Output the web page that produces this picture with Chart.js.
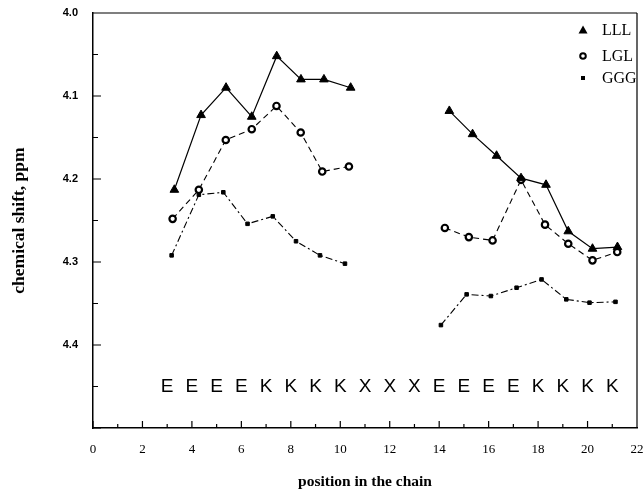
<!DOCTYPE html>
<html>
<head>
<meta charset="utf-8">
<script src="https://cdn.jsdelivr.net/npm/chart.js@4"></script>
<style>
    html, body { margin: 0; padding: 0; background: #fff; }
    #wrap { width: 644px; height: 495px; }
</style>
</head>
<body>
<div id="wrap"><canvas id="chart" width="644" height="495"></canvas></div>
<script>
// chain positions and shifts (null = gap in the chain)
const lllX = [3.29, 4.37, 5.38, 6.42, 7.43, 8.41, 9.34, 10.42, 12, 14.41, 15.35, 16.32, 17.31, 18.32, 19.22, 20.2, 21.21];
const lllY = [4.213, 4.123, 4.090, 4.125, 4.052, 4.080, 4.080, 4.090, null, 4.118, 4.146, 4.172, 4.199, 4.207, 4.263, 4.284, 4.282];

const lglX = [3.22, 4.28, 5.37, 6.42, 7.42, 8.40, 9.27, 10.35, 12, 14.23, 15.2, 16.16, 17.31, 18.28, 19.22, 20.2, 21.2];
const lglY = [4.248, 4.213, 4.153, 4.140, 4.112, 4.144, 4.191, 4.185, null, 4.259, 4.270, 4.274, 4.201, 4.255, 4.278, 4.298, 4.288];

const gggX = [3.18, 4.28, 5.27, 6.25, 7.27, 8.21, 9.18, 10.19, 12, 14.07, 15.11, 16.09, 17.13, 18.14, 19.14, 20.08, 21.13];
const gggY = [4.292, 4.219, 4.216, 4.254, 4.245, 4.275, 4.292, 4.302, null, 4.376, 4.339, 4.341, 4.331, 4.321, 4.345, 4.349, 4.348];

const residues = ['E', 'E', 'E', 'E', 'K', 'K', 'K', 'K', 'X', 'X', 'X', 'E', 'E', 'E', 'E', 'K', 'K', 'K', 'K'];
const residuePos = [3, 4, 5, 6, 7, 8, 9, 10, 11, 12, 13, 14, 15, 16, 17, 18, 19, 20, 21];
const residueLevel = 4.45;

const seriesNames = ['LLL', 'LGL', 'GGG'];

function pts(xs, ys) {
    return xs.map((x, i) => ({ x: x, y: ys[i] }));
}

// inward ticks, top/right frame, residue letters and the legend
const extras = {
    id: 'extras',
    afterDraw(chart) {
        const ctx = chart.ctx;
        const xs = chart.scales.x, ys = chart.scales.y;
        const a = chart.chartArea;
        ctx.save();
        ctx.strokeStyle = '#000';
        ctx.lineWidth = 1.2;
        ctx.beginPath();
        ctx.moveTo(a.left, a.top); ctx.lineTo(a.right, a.top);
        ctx.moveTo(a.right, a.top); ctx.lineTo(a.right, a.bottom);
        for (let v = 0; v <= 22; v++) {
            const px = xs.getPixelForValue(v);
            const len = v % 2 === 0 ? 7 : 4;
            ctx.moveTo(px, a.bottom); ctx.lineTo(px, a.bottom - len);
        }
        for (let k = 0; k <= 10; k++) {
            const py = ys.getPixelForValue(4.0 + k * 0.05);
            const len = k % 2 === 0 ? 8 : 5;
            ctx.moveTo(a.left, py); ctx.lineTo(a.left + len, py);
        }
        ctx.stroke();

        ctx.fillStyle = '#000';
        ctx.font = '19px "Liberation Sans", Arial, sans-serif';
        ctx.textAlign = 'center';
        ctx.textBaseline = 'middle';
        residues.forEach((r, i) => {
            ctx.fillText(r, xs.getPixelForValue(residuePos[i]), ys.getPixelForValue(residueLevel));
        });

        // legend
        const lx = 583, ly = [30, 56, 78];
        ctx.font = '16px "Liberation Serif", "Times New Roman", serif';
        ctx.textAlign = 'left';
        seriesNames.forEach((n, i) => {
            const y = ly[i];
            ctx.beginPath();
            if (i === 0) {
                ctx.moveTo(lx, y - 4.5); ctx.lineTo(lx + 4.5, y + 3.5); ctx.lineTo(lx - 4.5, y + 3.5); ctx.closePath();
                ctx.fill();
            } else if (i === 1) {
                ctx.lineWidth = 2;
                ctx.arc(lx, y, 2.8, 0, Math.PI * 2);
                ctx.stroke();
            } else {
                ctx.fillRect(lx - 2, y - 2, 4, 4);
            }
            ctx.fillText(n, lx + 19, y + 1);
        });
        ctx.restore();
    }
};

new Chart(document.getElementById('chart'), {
    type: 'line',
    data: {
        datasets: [
            {
                label: seriesNames[0],
                data: pts(lllX, lllY),
                borderColor: '#000',
                backgroundColor: '#000',
                borderWidth: 1.2,
                pointStyle: 'triangle',
                pointRadius: 5,
                pointBorderWidth: 1,
                spanGaps: false
            },
            {
                label: seriesNames[1],
                data: pts(lglX, lglY),
                borderColor: '#000',
                backgroundColor: '#fff',
                borderWidth: 1.1,
                borderDash: [6, 4],
                pointStyle: 'circle',
                pointRadius: 3.2,
                pointBorderWidth: 2.2,
                spanGaps: false
            },
            {
                label: seriesNames[2],
                data: pts(gggX, gggY),
                borderColor: '#000',
                backgroundColor: '#000',
                borderWidth: 1.1,
                borderDash: [7, 3, 2, 3],
                pointStyle: 'rect',
                pointRadius: 2.5,
                pointBorderWidth: 1,
                spanGaps: false
            }
        ]
    },
    options: {
        responsive: false,
        animation: false,
        layout: { padding: { top: 13, right: 7, left: 0, bottom: 0 } },
        plugins: {
            legend: { display: false },
            tooltip: { enabled: false }
        },
        scales: {
            x: {
                type: 'linear',
                min: 0,
                max: 22,
                afterFit: (s) => { s.height = 67; s.paddingLeft = 0; s.paddingRight = 0; },
                grid: { display: false, drawTicks: false },
                border: { display: true, color: '#000', width: 1.5 },
                ticks: {
                    stepSize: 2,
                    padding: 14,
                    color: '#000',
                    font: { family: '"Liberation Serif", "Times New Roman", serif', size: 13 }
                },
                title: {
                    display: true,
                    text: 'position in the chain',
                    color: '#000',
                    font: { family: '"Liberation Serif", "Times New Roman", serif', size: 15.5, weight: 'bold' },
                    padding: { top: 0, bottom: 4 }
                }
            },
            y: {
                type: 'linear',
                reverse: true,
                min: 4.0,
                max: 4.5,
                afterFit: (s) => { s.width = 93; s.paddingTop = 0; s.paddingBottom = 0; },
                grid: { display: false, drawTicks: false },
                border: { display: true, color: '#000', width: 1.5 },
                ticks: {
                    stepSize: 0.1,
                    padding: 15,
                    color: '#000',
                    font: { family: '"Liberation Sans", Arial, sans-serif', size: 11, weight: 'bold' },
                    callback: (v) => (v > 4.45 ? '' : Number(v).toFixed(1))
                },
                title: {
                    display: true,
                    text: 'chemical shift, ppm',
                    color: '#000',
                    font: { family: '"Liberation Serif", "Times New Roman", serif', size: 17.5, weight: 'bold' },
                    padding: { top: 9, bottom: 0 }
                }
            }
        }
    },
    plugins: [extras]
});
</script>
</body>
</html>
